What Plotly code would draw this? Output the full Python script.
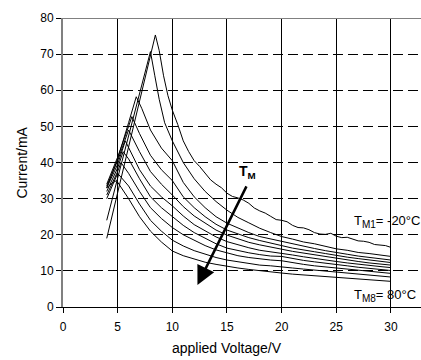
import plotly.graph_objects as go

# ---- data ----
TAIL_X = list(range(10, 31))
TAIL_X_FINE = [10 + 0.5 * i for i in range(41)]

HEAD_X = {
    "A": [4, 5, 6, 7, 8, 8.45, 8.8, 9.2, 9.6],
    "B": [4, 5, 6, 7, 7.6, 8.0, 8.4, 8.8, 9.3],
    "C": [4, 5, 6, 6.7, 7.2, 8, 9],
    "D": [4, 5, 6, 6.3, 7, 8, 9],
    "E": [4, 5, 6, 7, 8, 9],
    "F": [4, 5, 5.7, 6.5, 7, 8, 9],
    "G": [4, 5, 5.5, 6, 7, 8, 9],
    "H": [4, 5, 5.3, 6, 7, 8, 9],
    "I": [4, 4.5, 5, 6, 7, 8, 9],
    "J": [4, 4.5, 4.9, 6, 7, 8, 9],
}
HEAD_Y = {
    "A": [19, 31.5, 44, 57, 69.5, 75.3, 71, 64, 58.5],
    "B": [24, 35.5, 47, 58.5, 65.5, 70.7, 64, 57.5, 51],
    "C": [33, 41, 51, 58.2, 55, 49, 44],
    "D": [34, 41.5, 50, 52.7, 48, 42, 38],
    "E": [33.5, 40.5, 49, 43, 37.5, 34],
    "F": [33, 39.5, 46, 41, 38, 33.5, 30.5],
    "G": [32, 38.5, 43, 41, 35.5, 30.5, 27.5],
    "H": [31, 37.5, 40, 37, 32, 27.5, 24.5],
    "I": [30, 33.5, 37, 33.5, 28.5, 24, 21],
    "J": [33, 34.3, 35, 30, 25, 21, 18],
}
# curve A tail, read at half-volt steps (10 .. 30)
TAIL_Y_A = [54.5, 50.5, 46, 43.0, 40.5, 38.9, 37, 35.2, 34, 33.0, 31.5, 30.6, 30.2, 29.6,
            28.7, 27.4, 26.6, 26.0, 25.1, 24.2, 24.0, 23.6, 22.6, 22.0, 21.9, 21.4, 20.6,
            20.2, 20.1, 20.4, 19.6, 19.2, 19.3, 18.9, 18.3, 18.2, 17.9, 17.3, 17.1, 17.0, 16.5]
TAIL_Y = {
    "B": [46, 40, 35.5, 32, 29.2, 26.8, 24.8, 23.3, 21.8, 20.6, 19.5, 18.8, 18.0, 17.5, 16.8, 16.1, 15.7, 15.1, 14.8, 14.3, 14.0],
    "C": [40.5, 34.5, 30.5, 27.5, 25.0, 23.2, 21.8, 20.6, 19.5, 18.8, 18.1, 17.4, 16.9, 16.2, 15.6, 15.0, 14.6, 14.1, 13.8, 13.3, 13.0],
    "D": [35, 30.5, 27.5, 25.0, 22.9, 21.3, 20.2, 19.2, 18.4, 17.6, 17.0, 16.3, 15.9, 15.3, 14.8, 14.2, 13.8, 13.4, 13.0, 12.6, 12.3],
    "E": [31, 27.8, 25.2, 23.2, 21.3, 19.9, 18.8, 17.9, 17.2, 16.5, 16.0, 15.4, 14.9, 14.4, 13.9, 13.4, 13.0, 12.6, 12.2, 11.9, 11.6],
    "F": [28, 25.2, 22.8, 21.0, 19.4, 18.1, 17.2, 16.4, 15.7, 15.3, 15.0, 14.4, 13.9, 13.4, 13.0, 12.6, 12.2, 11.8, 11.5, 11.2, 10.9],
    "G": [25, 22.6, 20.6, 19.0, 17.5, 16.3, 15.6, 15.0, 14.5, 14.1, 14.0, 13.4, 12.9, 12.5, 12.2, 11.8, 11.4, 11.0, 10.7, 10.4, 10.1],
    "H": [22, 20.0, 18.4, 17.0, 15.8, 14.9, 14.2, 13.7, 13.3, 13.0, 12.8, 12.2, 11.8, 11.4, 11.1, 10.9, 10.5, 10.1, 9.8, 9.5, 9.3],
    "I": [18.5, 16.9, 15.6, 14.6, 13.7, 13.0, 12.5, 12.0, 11.6, 11.4, 11.2, 10.8, 10.5, 10.2, 10.0, 9.8, 9.4, 9.0, 8.8, 8.5, 8.3],
    "J": [15.5, 14.2, 13.2, 12.4, 11.8, 11.2, 10.8, 10.4, 10.0, 9.7, 9.4, 9.1, 8.9, 8.7, 8.5, 8.3, 8.0, 7.7, 7.5, 7.3, 7.1],
}
X_TICKS = [0, 5, 10, 15, 20, 25, 30]
Y_TICKS = [0, 10, 20, 30, 40, 50, 60, 70, 80]

FONT = "Liberation Sans, Arial, sans-serif"

fig = go.Figure()
for k in HEAD_X:
    if k == "A":
        xs = HEAD_X[k] + TAIL_X_FINE
        ys = HEAD_Y[k] + TAIL_Y_A
    else:
        xs = HEAD_X[k] + TAIL_X
        ys = HEAD_Y[k] + TAIL_Y[k]
    fig.add_trace(go.Scatter(x=xs, y=ys, mode="lines",
                             line=dict(color="black", width=1),
                             showlegend=False, hoverinfo="skip"))

fig.update_layout(
    width=421, height=360,
    margin=dict(l=63, r=0, t=18, b=53),
    paper_bgcolor="white", plot_bgcolor="white",
    font=dict(family=FONT, size=12, color="black"),
    showlegend=False,
)
fig.update_xaxes(
    range=[0, 32.75], tickvals=X_TICKS, showgrid=True, gridcolor="black", gridwidth=1,
    zeroline=False, showline=True, linecolor="black", linewidth=1,
    ticks="outside", ticklen=5, tickcolor="black", tickfont=dict(size=12),
    ticklabelstandoff=4,
)
fig.update_yaxes(
    range=[0, 80], tickvals=Y_TICKS, showgrid=True, gridcolor="black", gridwidth=1,
    griddash="10px,5px", zeroline=False, showline=True, linecolor="#808080", linewidth=2,
    ticks="outside", ticklen=5, tickcolor="black", tickfont=dict(size=12),
)
# top border (solid grey at y=80)
fig.add_shape(type="line", xref="paper", yref="y", x0=0, x1=1, y0=80, y1=80,
              line=dict(color="#808080", width=2))

# axis titles
fig.add_annotation(text="applied Voltage/V", xref="x", yref="paper", x=15, y=-0.142,
                   showarrow=False, xanchor="center", yanchor="middle",
                   font=dict(size=14, family=FONT))
fig.add_annotation(text="Current/mA", xref="paper", yref="paper", x=-0.117, y=0.5,
                   textangle=-90, showarrow=False, xanchor="center", yanchor="middle",
                   font=dict(size=14, family=FONT))

# arrow and labels
fig.add_annotation(x=12.3, y=6.1, ax=16.85, ay=33.8, xref="x", yref="y", axref="x", ayref="y",
                   text="", showarrow=True, arrowhead=2, arrowsize=1.5, arrowwidth=2.5,
                   arrowcolor="black")
fig.add_annotation(text="<b>T<sub>M</sub></b>", x=16.9, y=37.4, xref="x", yref="y",
                   showarrow=False, font=dict(size=14, family=FONT))
fig.add_annotation(text="T<sub><span style='font-size:10px'>M1</span></sub>= -20°C",
                   x=26.4, y=23.6, xref="x", yref="y",
                   showarrow=False, xanchor="left", yanchor="middle",
                   font=dict(size=13, family=FONT))
fig.add_annotation(text="T<sub><span style='font-size:10px'>M8</span></sub>= 80°C",
                   x=26.4, y=3.3, xref="x", yref="y",
                   showarrow=False, xanchor="left", yanchor="middle",
                   font=dict(size=13, family=FONT))

fig.write_html("out.html")
